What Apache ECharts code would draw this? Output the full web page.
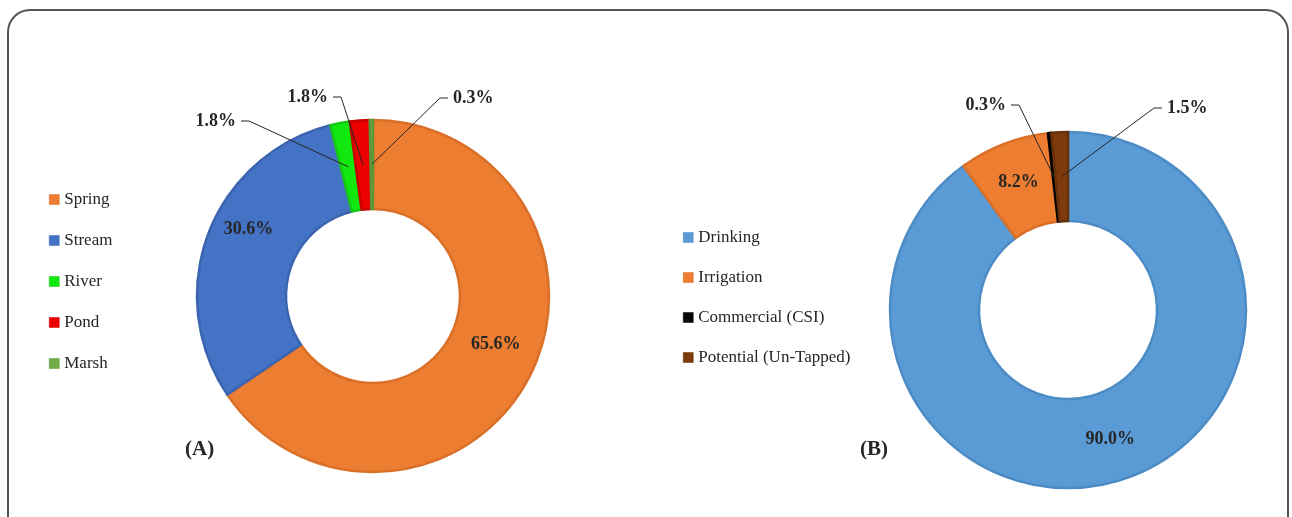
<!DOCTYPE html>
<html><head><meta charset="utf-8">
<script src="https://cdn.jsdelivr.net/npm/echarts@6/dist/echarts.min.js"></script>
<style>html,body{margin:0;padding:0;background:#fff}#c{width:1292px;height:517px}</style>
</head><body><div id="c"></div>
<script>
// ---- data ----
const sourceNames = ['Spring', 'Stream', 'River', 'Pond', 'Marsh'];
const sourceValues = [65.6, 30.6, 1.8, 1.8, 0.3];
const useNames = ['Drinking', 'Irrigation', 'Commercial (CSI)', 'Potential (Un-Tapped)'];
const useValues = [90.0, 8.2, 0.3, 1.5];
const panelLabels = ['(A)', '(B)'];

// ---- styles ----
const sourceColors = ['#ED7D31', '#4472C4', '#10E810', '#EC0000', '#70AD47'];
const sourceEdges  = ['#DA6F27', '#3B64B0', '#16C816', '#C80000', '#5E9638'];
const useColors = ['#5B9BD5', '#ED7D31', '#080808', '#7E390C'];
const useEdges  = ['#4D8BC5', '#DA6F27', '#000000', '#66300A'];
const FONT = "'Liberation Serif', 'Times New Roman', serif";
const TXT = '#262626';

// geometry of the two doughnuts
const geoA = { center: [373, 296], r0: 87, r1: 176 };
const geoB = { center: [1068, 310], r0: 89, r1: 178 };

// callout placement for small slices (text anchor + side)
const calloutA = {
  2: { x: 236, y: 121, side: 'right' },
  3: { x: 328, y: 97, side: 'right' },
  4: { x: 453, y: 98, side: 'left' }
};
const calloutB = {
  2: { x: 1006, y: 105, side: 'right' },
  3: { x: 1167, y: 108, side: 'left' }
};
const insideOffsetA = { 0: [4, -15], 1: [1, -19] };

const labelBase = {
  formatter: p => p.value.toFixed(1) + '%',
  fontFamily: FONT, fontSize: 18, fontWeight: 'bold', color: TXT
};

// main rings: coloured slices + inside labels of the large slices
function mainData(names, values, colors, edges, callout, offsets) {
  return names.map((n, i) => ({
    name: n, value: values[i],
    itemStyle: { color: colors[i], borderColor: edges[i], borderWidth: 2.5 },
    label: callout[i] ? { show: false }
      : { show: true, position: 'inside', offset: (offsets && offsets[i]) || [0, 0] },
    labelLine: { show: false }
  }));
}

// overlay rings (transparent) carrying the callout labels of small slices, drawn above
function calloutData(names, values, callout) {
  return names.map((n, i) => ({
    name: n, value: values[i],
    itemStyle: { color: 'rgba(0,0,0,0)', borderWidth: 0 },
    label: callout[i] ? { show: true, position: 'outside' } : { show: false },
    labelLine: { show: !!callout[i], length: 10, length2: 10 }
  }));
}

// mid-ring anchor of slice i (start angle 90°, clockwise) derived from the values
function midRingPoint(geo, values, i) {
  const total = values.reduce((a, b) => a + b, 0);
  let cum = 0;
  for (let k = 0; k < i; k++) cum += values[k];
  const frac = (cum + values[i] / 2) / total;
  const theta = Math.PI / 2 - frac * 2 * Math.PI;
  const rm = (geo.r0 + geo.r1) / 2;
  return [geo.center[0] + rm * Math.cos(theta), geo.center[1] - rm * Math.sin(theta)];
}

function makeLayout(geo, values, callout) {
  return function (params) {
    const c = callout[params.dataIndex];
    if (!c) return {};
    const start = midRingPoint(geo, values, params.dataIndex);
    const dir = c.side === 'right' ? 1 : -1;
    const end = [c.x + dir * 5, c.y];
    const bend = [c.x + dir * 13, c.y];
    return {
      x: c.x, y: c.y, align: c.side, verticalAlign: 'middle',
      labelLinePoints: [start, bend, end]
    };
  };
}

function pieSeries(geo, data, z, layout) {
  const s = {
    type: 'pie',
    z: z,
    center: geo.center,
    radius: [geo.r0, geo.r1],
    startAngle: 90,
    clockwise: true,
    avoidLabelOverlap: false,
    silent: true,
    animation: false,
    emphasis: { disabled: true },
    label: labelBase,
    labelLine: { showAbove: true, lineStyle: { color: TXT, width: 1 } },
    data: data
  };
  if (layout) s.labelLayout = layout;
  return s;
}

const legendText = { fontFamily: FONT, fontSize: 17, color: TXT, lineHeight: 17 };

const chart = echarts.init(document.getElementById('c'), null, { renderer: 'canvas' });
chart.setOption({
  backgroundColor: '#fff',
  animation: false,
  title: [
    { text: panelLabels[0], left: 185, top: 439, padding: 0,
      textStyle: { fontFamily: FONT, fontSize: 21, fontWeight: 'bold', color: TXT } },
    { text: panelLabels[1], left: 860, top: 439, padding: 0,
      textStyle: { fontFamily: FONT, fontSize: 21, fontWeight: 'bold', color: TXT } }
  ],
  legend: [
    { data: sourceNames, orient: 'vertical', left: 49, top: 191, padding: 0,
      itemWidth: 10, itemHeight: 10, itemGap: 24, icon: 'rect', selectedMode: false,
      itemStyle: { borderWidth: 0.5 }, textStyle: legendText },
    { data: useNames, orient: 'vertical', left: 683, top: 229, padding: 0,
      itemWidth: 10, itemHeight: 10, itemGap: 23, icon: 'rect', selectedMode: false,
      itemStyle: { borderWidth: 0.5 }, textStyle: legendText }
  ],
  graphic: [
    { type: 'rect', shape: { x: 8, y: 10, width: 1280, height: 540, r: 22 },
      style: { fill: 'none', stroke: '#555', lineWidth: 2 }, silent: true, z: 100 }
  ],
  series: [
    pieSeries(geoA, mainData(sourceNames, sourceValues, sourceColors, sourceEdges, calloutA, insideOffsetA), 2, null),
    pieSeries(geoB, mainData(useNames, useValues, useColors, useEdges, calloutB, null), 2, null),
    pieSeries(geoA, calloutData(sourceNames, sourceValues, calloutA), 5, makeLayout(geoA, sourceValues, calloutA)),
    pieSeries(geoB, calloutData(useNames, useValues, calloutB), 5, makeLayout(geoB, useValues, calloutB))
  ]
});
</script>
</body></html>
